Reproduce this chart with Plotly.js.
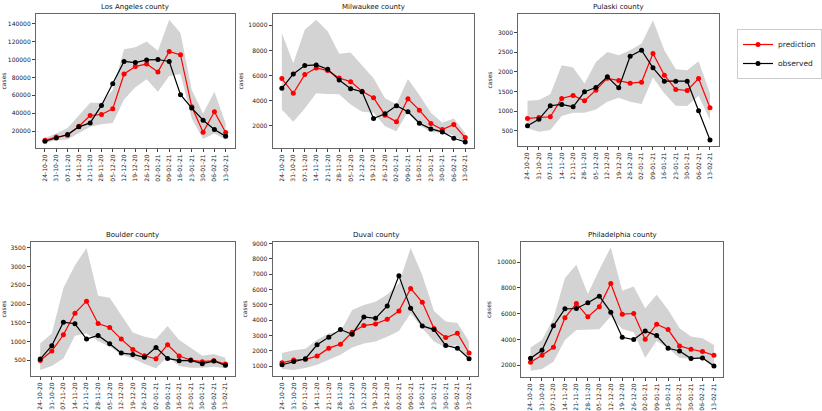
<!DOCTYPE html>
<html>
<head>
<meta charset="utf-8">
<script src="https://cdn.plot.ly/plotly-3.0.1.min.js"></script>
<style>html,body{margin:0;padding:0;background:#fff;}#chart{width:822px;height:411px;}</style>
</head>
<body>
<div id="chart"></div>
<script>
const dates = ["24-10-20","31-10-20","07-11-20","14-11-20","21-11-20","28-11-20","05-12-20","12-12-20","19-12-20","26-12-20","02-01-21","09-01-21","16-01-21","23-01-21","30-01-21","06-02-21","13-02-21"];

const countyNames = ["Los Angeles county","Milwaukee county","Pulaski county","Boulder county","Duval county","Philadelphia county"];

const laObs  = [8800,12500,16300,24900,29300,48800,73100,97800,96600,99600,100000,97800,60700,45800,32300,21900,14400];
const laPred = [9900,13600,15500,25600,37600,38700,45000,83900,92100,95100,86200,109000,105200,47300,18900,41700,18500];
const laUp   = [12500,17400,23700,38000,51800,51800,66000,111600,113800,120200,109700,144500,129500,66000,39800,64100,28600];
const laLow  = [6900,9900,10700,17400,24900,27900,29300,55500,69000,78000,64100,81700,83900,34200,11400,17400,10700];

const miObs  = [4990,6130,6800,6850,6510,5650,4960,4720,2590,2960,3600,3120,2210,1760,1520,1010,720];
const miPred = [5760,4590,6080,6610,6400,5810,5520,4750,4240,2850,2320,4160,3250,2190,1710,2110,1070];
const miUp   = [9390,6990,9650,10450,9520,7730,7840,6850,5790,4190,3730,5730,4450,3040,2240,2590,1440];
const miLow  = [3310,2320,3390,4590,4530,4510,3710,3120,3040,1970,1570,3120,2050,1520,1440,1250,640];

const puObs  = [627,790,1136,1170,1110,1492,1602,1873,1593,2398,2551,2102,1763,1763,1763,1008,263];
const puPred = [813,839,856,1322,1398,1263,1534,1839,1780,1712,1737,2466,1915,1551,1525,1831,1085];
const puUp   = [1263,1280,1432,2170,2110,1703,2254,2509,2424,2551,2720,3314,2551,2068,2042,2271,1449];
const puLow  = [560,475,517,873,958,958,1042,1237,1339,1237,1178,1856,1449,1136,1127,1390,771];

const boObs  = [535,889,1518,1474,1066,1164,942,695,659,580,845,553,491,500,412,482,367];
const boPred = [495,748,1181,1757,2075,1482,1376,1066,792,624,544,916,615,509,465,491,403];
const boUp   = [951,1217,2429,3031,3491,2217,2164,1704,1243,1128,1066,1412,1040,836,624,668,571];
const boLow  = [243,350,553,1155,1217,1013,863,659,553,403,288,597,350,305,305,332,288];

const duObs  = [1087,1304,1477,2388,2886,3385,3081,4209,4122,4924,6897,4772,3623,3385,2344,2171,1477];
const duPred = [1217,1390,1434,1650,2171,2431,3211,3645,3753,4057,4599,6073,5163,3450,2864,3146,1846];
const duUp   = [1846,2041,2127,2713,3146,3255,4664,4989,5206,5683,6398,8718,6940,4599,3905,3818,2604];
const duLow  = [805,740,870,1087,1412,1737,2214,2474,2604,2908,3298,4447,3472,2604,2214,2388,1304];

const phObs  = [2544,3165,5055,6375,6401,6841,7359,6117,4175,3994,4667,4304,3320,3113,2518,2570,1948];
const phPred = [2233,2777,3398,5676,6790,5754,6531,8343,5961,6013,4019,5184,4770,3502,3243,3062,2777];
const phUp   = [3372,3968,5650,8757,9793,7515,9405,11139,7773,8110,6427,7463,6298,4874,4227,4097,3579];
const phLow  = [1586,1715,2285,3968,4744,4770,4796,5780,4822,4563,2595,3890,3320,2595,2492,2544,1767];

const yRanges = [[1300,150800],[240,10900],[110,3475],[84,3651],[350,9108],[1094,11553]];
const yTicks = [
  [20000,40000,60000,80000,100000,120000,140000],
  [2000,4000,6000,8000,10000],
  [500,1000,1500,2000,2500,3000],
  [500,1000,1500,2000,2500,3000,3500],
  [1000,2000,3000,4000,5000,6000,7000,8000,9000],
  [2000,4000,6000,8000,10000]
];

const series = [
  [laObs,laPred,laUp,laLow],
  [miObs,miPred,miUp,miLow],
  [puObs,puPred,puUp,puLow],
  [boObs,boPred,boUp,boLow],
  [duObs,duPred,duUp,duLow],
  [phObs,phPred,phUp,phLow]
];

// pixel boxes [left,right,top,bottom]
const boxes = [
  [36,235,14,148],[273,475,14,148],[519,720,14,146],
  [31,235,242,376],[273,479,242,376],[522,724,242,377]
];
const W = 822, H = 411;

const traces = [];
const layout = {
  width: W, height: H,
  margin: {l:0,r:0,t:0,b:0},
  paper_bgcolor: '#fff', plot_bgcolor: '#fff',
  font: {family: 'DejaVu Sans', size: 6, color: '#222'},
  showlegend: true,
  legend: {x: 738/W, y: 1-54/H, xanchor: 'left', yanchor: 'middle',
           bordercolor: '#ccc', borderwidth: 1, bgcolor: '#fff',
           traceorder: 'normal',
           font: {size: 7.5, family: 'DejaVu Sans', color: '#222'},
           tracegroupgap: 0, itemwidth: 30},
  annotations: []
};

series.forEach((s, i) => {
  const n = i === 0 ? '' : String(i+1);
  const xa = 'x' + n, ya = 'y' + n;
  const [obs, pred, up, low] = s;
  traces.push({x: dates, y: low, xaxis: xa, yaxis: ya, mode: 'lines',
    line: {width: 0, color: 'rgba(0,0,0,0)'}, showlegend: false, hoverinfo: 'skip'});
  traces.push({x: dates, y: up, xaxis: xa, yaxis: ya, mode: 'lines', fill: 'tonexty',
    fillcolor: '#d3d3d3', line: {width: 0, color: 'rgba(0,0,0,0)'}, showlegend: false, hoverinfo: 'skip'});
  traces.push({x: dates, y: pred, xaxis: xa, yaxis: ya, mode: 'lines+markers', name: 'prediction',
    line: {color: 'red', width: 1.2}, marker: {color: 'red', size: 5}, showlegend: i === 0});
  traces.push({x: dates, y: obs, xaxis: xa, yaxis: ya, mode: 'lines+markers', name: 'observed',
    line: {color: 'black', width: 1.2}, marker: {color: 'black', size: 5}, showlegend: i === 0});

  const b = boxes[i];
  const xd = [b[0]/W, b[1]/W], yd = [1-b[3]/H, 1-b[2]/H];
  layout['xaxis' + n] = {
    domain: xd, anchor: ya, type: 'category', range: [-0.8, 16.8],
    showgrid: false, zeroline: false, showline: true, mirror: true,
    linecolor: '#666', linewidth: 1, ticks: 'outside', ticklen: 3, tickcolor: '#444',
    tickangle: -90, tickfont: {size: 6, family: 'DejaVu Sans', color: '#222'}, fixedrange: true
  };
  layout['yaxis' + n] = {
    domain: yd, anchor: xa, range: yRanges[i], tickvals: yTicks[i],
    ticktext: yTicks[i].map(String),
    showgrid: false, zeroline: false, showline: true, mirror: true,
    linecolor: '#666', linewidth: 1, ticks: 'outside', ticklen: 3, tickcolor: '#444',
    tickfont: {size: 6, family: 'DejaVu Sans', color: '#222'},
    title: {text: 'cases', font: {size: 6, family: 'DejaVu Sans', color: '#222'}, standoff: 4},
    fixedrange: true
  };
  layout.annotations.push({
    text: countyNames[i], xref: 'paper', yref: 'paper',
    x: (xd[0]+xd[1])/2, y: yd[1], xanchor: 'center', yanchor: 'bottom', yshift: 1,
    showarrow: false, font: {size: 7, family: 'DejaVu Sans', color: '#111'}
  });
});

Plotly.newPlot('chart', traces, layout, {displayModeBar: false, staticPlot: true});
</script>
</body>
</html>
